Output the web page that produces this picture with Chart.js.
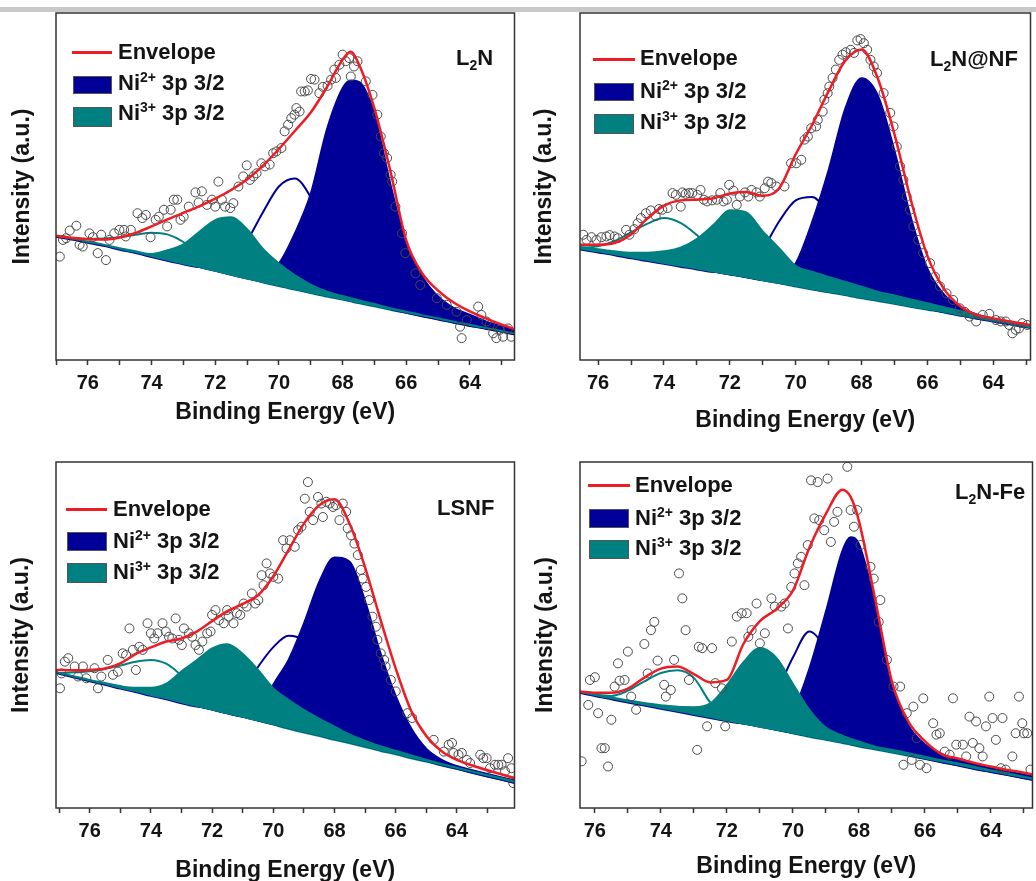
<!DOCTYPE html>
<html>
<head>
<meta charset="utf-8">
<script src="https://cdn.jsdelivr.net/npm/chart.js@4.4.1/dist/chart.umd.min.js"></script>
<style>
  html, body { margin: 0; padding: 0; background: #fff; overflow: hidden; }
  body { width: 1036px; height: 881px; position: relative; font-family: "Liberation Sans", Arial, sans-serif; }
  canvas { position: absolute; }
  .topbar { position: absolute; left: 0; top: 7px; width: 1036px; height: 5px; background: #c8c8c8; }
  .txt { position: absolute; font-weight: bold; font-size: 22px; line-height: 24px; color: #141414; white-space: nowrap; }
  .txt sup { font-size: 14px; line-height: 0; vertical-align: 8px; }
  .txt sub { font-size: 14px; line-height: 0; vertical-align: -5px; }
  .line { position: absolute; height: 3px; background: #ee1c24; }
  .box { position: absolute; box-sizing: border-box; border: 1px solid #555; }
  .navy { background: #000099; }
  .teal { background: #008080; }
</style>
</head>
<body>
<div class="topbar"></div>

<canvas id="p1" width="520" height="440" style="left:0;top:0"></canvas>
<canvas id="p2" width="516" height="440" style="left:520px;top:0"></canvas>
<canvas id="p3" width="520" height="445" style="left:0;top:440px"></canvas>
<canvas id="p4" width="518" height="445" style="left:520px;top:440px"></canvas>

<!-- legends and sample names -->
<div class="line" style="left:72px;top:51px;width:40px"></div>
<div class="txt" style="left:118px;top:40px">Envelope</div>
<div class="box navy" style="left:73px;top:76px;width:39px;height:18px"></div>
<div class="txt" style="left:118px;top:71px">Ni<sup>2+</sup> 3p 3/2</div>
<div class="box teal" style="left:73px;top:107px;width:39px;height:20px"></div>
<div class="txt" style="left:118px;top:101px">Ni<sup>3+</sup> 3p 3/2</div>
<div class="txt" style="left:456px;top:46px">L<sub>2</sub>N</div>

<div class="line" style="left:593px;top:58px;width:42px"></div>
<div class="txt" style="left:640px;top:46px">Envelope</div>
<div class="box navy" style="left:594px;top:83px;width:40px;height:18px"></div>
<div class="txt" style="left:640px;top:79px">Ni<sup>2+</sup> 3p 3/2</div>
<div class="box teal" style="left:594px;top:114px;width:40px;height:20px"></div>
<div class="txt" style="left:640px;top:110px">Ni<sup>3+</sup> 3p 3/2</div>
<div class="txt" style="left:930px;top:47px">L<sub>2</sub>N@NF</div>

<div class="line" style="left:66px;top:508px;width:41px"></div>
<div class="txt" style="left:113px;top:497px">Envelope</div>
<div class="box navy" style="left:67px;top:532px;width:40px;height:19px"></div>
<div class="txt" style="left:113px;top:529px">Ni<sup>2+</sup> 3p 3/2</div>
<div class="box teal" style="left:67px;top:563px;width:40px;height:20px"></div>
<div class="txt" style="left:113px;top:560px">Ni<sup>3+</sup> 3p 3/2</div>
<div class="txt" style="left:437px;top:496px">LSNF</div>

<div class="line" style="left:588px;top:484px;width:42px"></div>
<div class="txt" style="left:635px;top:473px">Envelope</div>
<div class="box navy" style="left:589px;top:509px;width:40px;height:19px"></div>
<div class="txt" style="left:635px;top:506px">Ni<sup>2+</sup> 3p 3/2</div>
<div class="box teal" style="left:589px;top:540px;width:40px;height:19px"></div>
<div class="txt" style="left:635px;top:536px">Ni<sup>3+</sup> 3p 3/2</div>
<div class="txt" style="left:955px;top:480px">L<sub>2</sub>N-Fe</div>

<script>
// ---- L2N (top left) ----
const L2N_ENERGY = [77, 76.5, 76, 75.5, 75, 74.5, 74, 73.5, 73, 72.5, 72, 71.5, 71, 70.5, 70, 69.5, 69, 68.5, 68, 67.75, 67.5, 67, 66.5, 66, 65.5, 65, 64.5, 64, 63.5, 63, 62.5];
const L2N_BASELINE = [35.5, 34.7, 33.8, 32.9, 31.8, 30.8, 29.7, 28.6, 27.5, 26.5, 25.4, 24.3, 23.2, 22.2, 21.2, 20.2, 19.2, 18.2, 17.3, 16.8, 16.3, 15.4, 14.4, 13.5, 12.6, 11.7, 10.7, 9.8, 9.0, 8.1, 7.2];
const L2N_NI2 = [35.6, 34.8, 33.9, 33.0, 32.0, 31.0, 29.9, 28.9, 27.8, 26.8, 25.8, 24.9, 24.0, 24.9, 27.9, 36.6, 48.1, 66.4, 78.4, 80.6, 80.3, 71.2, 51.0, 33.7, 24.2, 18.4, 15.0, 13.1, 11.2, 9.8, 8.4];
const L2N_NI2_B = [35.5, 34.7, 33.8, 32.9, 31.8, 30.8, 29.7, 28.6, 27.6, 26.8, 27.0, 29.1, 34.4, 42.6, 50.0, 52.3, 46.9, 36.6, 26.9, 23.2, 20.2, 16.6, 14.7, 13.6, 12.6, 11.7, 10.7, 9.8, 9.0, 8.1, 7.2];
const L2N_NI3 = [35.8, 35.0, 34.2, 33.3, 32.3, 31.4, 30.6, 31.7, 33.4, 37.0, 40.4, 41.2, 37.8, 32.1, 27.9, 24.5, 21.8, 19.8, 18.5, 17.9, 17.3, 16.2, 15.0, 14.0, 13.0, 12.1, 11.1, 10.2, 9.3, 8.4, 7.5];
const L2N_NI3_B = [35.7, 35.1, 34.9, 35.0, 35.4, 36.1, 36.7, 36.2, 34.0, 30.0, 27.3, 25.4, 23.8, 22.4, 21.3, 20.3, 19.3, 18.3, 17.4, 16.9, 16.4, 15.5, 14.5, 13.6, 12.7, 11.8, 10.8, 9.9, 9.1, 8.2, 7.3];
const L2N_ENVELOPE = [35.8, 35.2, 34.8, 34.7, 35.3, 36.6, 38.5, 40.5, 42.4, 44.3, 46.5, 49.0, 52.0, 56.0, 60.8, 66.0, 71.3, 78.5, 86.5, 88.8, 85.5, 72.5, 54.5, 34.5, 25.0, 20.0, 16.5, 14.0, 12.0, 10.2, 8.6];
const L2N_DATA_E = [76.88, 76.78, 76.68, 76.57, 76.36, 76.26, 76.16, 75.95, 75.84, 75.69, 75.58, 75.43, 75.32, 75.17, 75.01, 74.86, 74.81, 74.65, 74.44, 74.29, 74.18, 74.03, 73.87, 73.77, 73.61, 73.51, 73.40, 73.30, 73.19, 73.09, 72.99, 72.83, 72.62, 72.52, 72.42, 72.26, 72.10, 72.00, 71.90, 71.79, 71.69, 71.53, 71.43, 71.27, 71.12, 71.01, 70.91, 70.80, 70.70, 70.55, 70.44, 70.29, 70.18, 70.08, 69.92, 69.82, 69.71, 69.61, 69.51, 69.45, 69.35, 69.30, 69.19, 69.09, 68.99, 68.88, 68.73, 68.62, 68.47, 68.36, 68.26, 68.21, 68.10, 68.00, 67.90, 67.79, 67.74, 67.64, 67.53, 67.27, 67.06, 66.91, 66.80, 66.70, 66.60, 66.49, 66.44, 66.34, 66.13, 66.03, 65.71, 65.56, 65.04, 64.73, 64.42, 64.31, 64.26, 64.10, 63.74, 63.64, 63.48, 63.38, 63.27, 63.17, 63.06, 62.96, 62.80, 62.70];
const L2N_DATA_I = [29.8, 34.6, 35.1, 37.3, 38.7, 33.2, 32.7, 36.5, 35.4, 30.8, 36.1, 28.8, 34.6, 36.5, 37.5, 37.5, 35.6, 37.5, 42.3, 40.9, 41.8, 35.4, 40.4, 41.3, 43.3, 38.5, 43.3, 46.2, 46.2, 40.4, 41.3, 44.2, 48.3, 45.4, 48.6, 44.7, 46.2, 44.2, 51.4, 46.2, 44.2, 43.8, 45.2, 50.0, 52.9, 56.1, 51.9, 52.9, 53.8, 56.7, 55.8, 56.3, 59.6, 60.1, 61.1, 65.9, 67.8, 69.7, 70.7, 72.6, 71.6, 77.4, 77.4, 77.7, 81.0, 80.8, 76.9, 78.7, 79.0, 80.8, 83.7, 81.3, 85.1, 88.0, 86.1, 87.0, 81.7, 84.6, 86.1, 80.3, 76.4, 70.7, 64.4, 59.6, 58.2, 53.4, 51.4, 44.2, 36.5, 30.8, 25.0, 21.6, 17.8, 15.9, 13.9, 9.6, 6.3, 11.5, 15.4, 13.0, 11.1, 10.1, 7.7, 6.3, 8.7, 6.7, 9.1, 6.7];

// ---- L2N@NF (top right) ----
const NF_ENERGY = [77, 76.5, 76, 75.5, 75, 74.5, 74, 73.5, 73, 72.5, 72, 71.5, 71, 70.5, 70, 69.5, 69, 68.5, 68, 67.5, 67, 66.5, 66, 65.5, 65, 64.5, 64, 63.5, 63, 62.5];
const NF_BASELINE = [32.7, 31.8, 31.0, 30.2, 29.3, 28.5, 27.7, 26.9, 26.1, 25.2, 24.4, 23.6, 22.7, 21.9, 21.1, 20.2, 19.4, 18.6, 17.7, 16.9, 16.1, 15.2, 14.4, 13.6, 12.7, 11.9, 11.1, 10.3, 9.4, 8.7];
const NF_NI2 = [32.9, 32.0, 31.2, 30.4, 29.5, 28.7, 27.9, 27.1, 26.3, 25.4, 24.6, 23.8, 23.0, 23.5, 28.0, 40.0, 55.0, 72.5, 81.3, 76.3, 60.5, 41.2, 26.5, 19.0, 15.3, 13.2, 12.0, 11.0, 10.0, 9.2];
const NF_NI2_B = [32.7, 31.8, 31.0, 30.2, 29.3, 28.5, 27.7, 26.9, 26.1, 25.4, 25.5, 27.5, 32.0, 40.0, 46.0, 47.0, 42.0, 34.0, 26.5, 21.0, 17.8, 16.0, 14.8, 13.8, 12.8, 11.9, 11.1, 10.3, 9.4, 8.7];
const NF_NI3 = [33.5, 32.6, 32.0, 31.4, 31.0, 31.0, 31.4, 32.4, 35.0, 39.0, 43.2, 42.6, 37.2, 32.3, 27.2, 25.5, 24.0, 22.6, 21.2, 19.7, 18.7, 17.5, 16.4, 15.3, 14.2, 13.0, 12.0, 11.0, 10.0, 9.2];
const NF_NI3_B = [33.0, 32.4, 32.8, 34.3, 36.8, 39.3, 40.9, 39.5, 36.0, 31.5, 27.8, 25.3, 23.6, 22.2, 21.2, 20.3, 19.5, 18.7, 17.8, 17.0, 16.2, 15.3, 14.5, 13.7, 12.8, 12.0, 11.2, 10.4, 9.5, 8.8];
const NF_ENVELOPE = [33.3, 33.2, 33.2, 33.7, 36.2, 40.8, 44.5, 46.0, 46.2, 46.6, 48.0, 48.4, 47.3, 49.5, 59.3, 67.8, 77.5, 86.2, 89.5, 81.0, 65.0, 46.0, 30.0, 20.5, 15.5, 13.0, 12.0, 11.1, 10.3, 9.5];
const NF_DATA_E = [76.45, 76.35, 76.20, 76.05, 75.90, 75.75, 75.65, 75.50, 75.40, 75.15, 75.05, 74.90, 74.80, 74.70, 74.55, 74.40, 74.25, 74.15, 74.05, 73.89, 73.74, 73.64, 73.49, 73.44, 73.34, 73.24, 73.14, 72.99, 72.89, 72.79, 72.69, 72.54, 72.39, 72.29, 72.19, 72.09, 72.02, 71.89, 71.79, 71.69, 71.54, 71.44, 71.34, 71.19, 71.09, 70.94, 70.84, 70.74, 70.59, 70.34, 70.14, 69.98, 69.83, 69.73, 69.63, 69.53, 69.38, 69.33, 69.18, 69.13, 69.03, 68.98, 68.88, 68.78, 68.68, 68.58, 68.48, 68.33, 68.23, 68.13, 68.03, 67.93, 67.83, 67.73, 67.63, 67.53, 67.33, 67.13, 67.03, 66.93, 66.83, 66.73, 66.63, 66.53, 66.43, 66.28, 66.13, 65.92, 65.77, 65.62, 65.42, 65.22, 65.02, 64.87, 64.72, 64.52, 64.32, 64.12, 63.92, 63.77, 63.62, 63.52, 63.42, 63.32, 63.22, 63.12, 62.97];
const NF_DATA_I = [36.1, 34.6, 35.4, 34.6, 35.4, 35.6, 36.0, 35.6, 35.1, 37.5, 36.1, 37.7, 39.4, 40.9, 42.3, 43.1, 41.5, 43.5, 43.3, 43.8, 48.1, 47.6, 44.2, 48.3, 47.9, 48.1, 48.1, 47.6, 49.0, 46.2, 45.7, 46.0, 46.2, 48.1, 45.7, 46.2, 50.5, 48.8, 44.7, 47.1, 48.3, 47.1, 49.0, 48.3, 47.1, 49.5, 51.4, 51.0, 50.0, 50.0, 56.7, 56.7, 57.7, 63.5, 64.4, 66.8, 67.3, 69.2, 71.6, 75.0, 76.9, 78.8, 81.3, 83.7, 86.5, 88.0, 88.7, 89.4, 88.5, 92.1, 92.5, 91.3, 89.4, 86.5, 84.6, 82.7, 76.9, 71.2, 67.3, 61.5, 55.8, 51.9, 47.1, 43.3, 38.5, 34.6, 30.8, 27.9, 24.0, 21.2, 19.2, 17.3, 14.9, 13.9, 12.5, 11.1, 13.0, 13.3, 11.5, 11.1, 11.1, 10.1, 7.7, 8.7, 9.1, 10.6, 10.1];

// ---- LSNF (bottom left) ----
const LSNF_ENERGY = [77.5, 77, 76.5, 76, 75.5, 75, 74.5, 74, 73.5, 73, 72.5, 72, 71.5, 71, 70.5, 70, 69.5, 69, 68.5, 68, 67.5, 67, 66.5, 66, 65.5, 65, 64.5, 64, 63.5, 63, 62.5, 62];
const LSNF_BASELINE = [39.8, 38.8, 37.7, 36.6, 35.6, 34.5, 33.5, 32.4, 31.4, 30.3, 29.2, 28.2, 27.1, 26.1, 25.0, 24.0, 22.9, 21.8, 20.8, 19.7, 18.7, 17.6, 16.5, 15.5, 14.4, 13.4, 12.3, 11.3, 10.2, 9.1, 8.1, 7.0];
const LSNF_NI2 = [40.0, 39.0, 37.9, 36.8, 35.8, 34.7, 33.7, 32.6, 31.6, 30.5, 29.4, 28.4, 27.3, 26.4, 27.0, 35.8, 43.0, 53.5, 65.5, 72.5, 71.2, 60.0, 45.0, 32.5, 23.2, 17.2, 14.0, 12.2, 11.0, 9.9, 8.8, 7.9];
const LSNF_NI2_B = [39.8, 38.8, 37.7, 36.6, 35.6, 34.5, 33.5, 32.4, 31.4, 30.3, 29.3, 29.2, 30.5, 34.0, 40.8, 46.5, 49.8, 48.3, 42.0, 33.0, 25.5, 21.0, 18.2, 16.3, 14.8, 13.6, 12.4, 11.3, 10.2, 9.1, 8.1, 7.0];
const LSNF_NI3 = [40.0, 39.1, 38.1, 37.1, 36.2, 35.3, 34.8, 34.8, 36.0, 39.6, 42.8, 46.2, 47.4, 44.6, 40.0, 34.7, 31.3, 28.4, 25.9, 23.6, 21.3, 19.5, 17.9, 16.6, 15.3, 14.0, 12.8, 11.7, 10.6, 9.6, 8.6, 7.5];
const LSNF_NI3_B = [39.9, 39.0, 39.2, 39.5, 40.2, 41.2, 42.3, 42.8, 41.7, 38.3, 34.0, 30.8, 28.5, 26.8, 25.3, 24.1, 22.9, 21.8, 20.8, 19.7, 18.7, 17.6, 16.5, 15.5, 14.4, 13.4, 12.3, 11.3, 10.2, 9.1, 8.1, 7.0];
const LSNF_ENVELOPE = [40.0, 39.9, 39.8, 39.9, 40.3, 41.8, 44.5, 46.4, 48.1, 49.0, 51.0, 54.0, 56.9, 59.0, 61.5, 67.0, 74.6, 82.2, 87.5, 89.2, 82.0, 69.5, 54.5, 40.3, 28.2, 20.8, 16.4, 13.9, 12.3, 10.9, 9.6, 8.4];
const LSNF_DATA_E = [76.97, 76.92, 76.81, 76.70, 76.49, 76.38, 76.22, 76.11, 75.84, 75.73, 75.62, 75.41, 75.24, 75.08, 74.92, 74.81, 74.70, 74.59, 74.49, 74.38, 74.27, 74.11, 74.00, 73.89, 73.78, 73.62, 73.51, 73.41, 73.30, 73.19, 73.08, 72.99, 72.92, 72.76, 72.65, 72.54, 72.43, 72.32, 72.16, 72.05, 72.00, 71.89, 71.78, 71.62, 71.51, 71.46, 71.30, 71.19, 71.08, 70.97, 70.87, 70.70, 70.59, 70.49, 70.38, 70.32, 70.22, 70.11, 70.00, 69.84, 69.68, 69.57, 69.46, 69.30, 69.19, 69.08, 68.97, 68.87, 68.81, 68.70, 68.54, 68.43, 68.38, 68.27, 68.16, 68.05, 67.95, 67.84, 67.73, 67.62, 67.57, 67.46, 67.35, 67.24, 67.14, 67.08, 66.97, 66.87, 66.76, 66.65, 66.60, 66.49, 66.38, 66.33, 66.16, 66.00, 65.62, 65.46, 64.76, 64.43, 64.27, 64.16, 64.11, 63.95, 63.84, 63.68, 63.57, 63.24, 63.14, 63.03, 62.92, 62.76, 62.65, 62.54, 62.43, 62.33, 62.22, 62.16];
const LSNF_DATA_I = [34.6, 38.9, 42.3, 43.3, 40.9, 38.0, 40.9, 37.5, 40.4, 34.6, 38.0, 42.8, 38.5, 39.4, 44.7, 44.2, 51.9, 45.7, 39.9, 46.6, 45.7, 53.4, 50.5, 49.0, 50.5, 53.4, 51.0, 49.5, 49.0, 54.8, 48.6, 47.1, 51.9, 50.5, 49.5, 47.1, 45.7, 48.1, 50.5, 51.0, 55.8, 57.2, 54.3, 53.4, 57.2, 55.3, 53.4, 56.3, 55.8, 59.1, 58.2, 62.0, 59.1, 60.1, 67.3, 64.4, 70.7, 67.8, 66.8, 66.3, 77.4, 75.0, 77.4, 75.5, 80.3, 81.3, 89.4, 94.2, 85.6, 83.2, 89.9, 88.0, 84.1, 88.5, 88.0, 87.0, 87.5, 83.2, 88.0, 85.6, 80.8, 78.8, 76.4, 73.1, 68.8, 66.3, 63.9, 60.1, 55.3, 52.4, 48.6, 44.7, 42.8, 40.9, 37.0, 33.7, 27.4, 26.0, 19.7, 16.3, 18.3, 18.8, 15.9, 15.4, 15.9, 13.9, 13.0, 15.4, 14.4, 14.4, 11.5, 12.5, 12.5, 12.5, 10.6, 14.4, 11.5, 7.2];

// ---- L2N-Fe (bottom right) ----
const FE_ENERGY = [77, 76.5, 76, 75.5, 75, 74.5, 74, 73.5, 73, 72.5, 72, 71.5, 71, 70.5, 70, 69.5, 69, 68.5, 68.25, 68, 67.5, 67, 66.5, 66, 65.5, 65, 64.5, 64, 63.5, 63, 62.5];
const FE_BASELINE = [34.2, 33.3, 32.4, 31.4, 30.5, 29.6, 28.7, 27.8, 26.9, 26.0, 25.0, 24.1, 23.2, 22.3, 21.4, 20.5, 19.6, 18.7, 18.2, 17.7, 16.8, 15.9, 15.0, 14.1, 13.2, 12.3, 11.3, 10.4, 9.5, 8.6, 7.7];
const FE_NI2 = [34.4, 33.5, 32.6, 31.6, 30.7, 29.8, 28.9, 28.0, 27.1, 26.2, 25.3, 24.4, 23.6, 23.2, 28.0, 40.5, 57.0, 74.5, 78.3, 76.5, 59.0, 36.5, 24.0, 18.5, 15.8, 14.0, 12.7, 11.6, 10.6, 9.7, 8.8];
const FE_NI2_B = [34.2, 33.3, 32.4, 31.4, 30.5, 29.6, 28.7, 27.8, 26.9, 26.0, 25.1, 24.5, 26.5, 33.5, 43.5, 51.0, 45.5, 33.0, 27.5, 23.5, 18.5, 16.5, 15.3, 14.2, 13.2, 12.3, 11.3, 10.4, 9.5, 8.6, 7.7];
const FE_NI3 = [34.5, 33.7, 32.9, 32.0, 31.2, 30.4, 29.8, 29.3, 29.2, 30.3, 35.6, 42.2, 46.3, 43.5, 36.0, 28.5, 23.3, 21.0, 20.1, 19.3, 17.8, 16.9, 15.9, 14.9, 13.9, 13.0, 12.0, 11.0, 10.1, 9.1, 8.2];
const FE_NI3_B = [34.4, 33.5, 32.8, 32.4, 33.9, 36.6, 39.0, 39.8, 37.6, 30.5, 27.0, 25.0, 23.8, 22.6, 21.6, 20.6, 19.7, 18.8, 18.3, 17.8, 16.9, 16.0, 15.1, 14.2, 13.3, 12.4, 11.4, 10.5, 9.6, 8.7, 7.8];
const FE_ENVELOPE = [34.0, 33.7, 33.3, 33.3, 34.5, 37.7, 40.3, 40.9, 38.7, 36.3, 37.0, 47.4, 54.0, 57.5, 62.8, 75.2, 85.0, 92.0, 89.9, 83.0, 60.0, 36.5, 25.0, 19.3, 15.6, 14.3, 13.0, 12.0, 11.0, 10.2, 9.2];
const FE_DATA_E = [76.40, 76.20, 76.15, 76.00, 75.90, 75.80, 75.70, 75.60, 75.50, 75.40, 75.30, 75.25, 75.10, 75.00, 74.90, 74.75, 74.50, 74.40, 74.30, 74.20, 74.10, 73.90, 73.85, 73.70, 73.60, 73.45, 73.35, 73.25, 73.15, 72.90, 72.85, 72.75, 72.60, 72.45, 72.35, 72.15, 72.05, 71.85, 71.70, 71.55, 71.40, 71.35, 71.25, 71.10, 71.00, 70.85, 70.65, 70.55, 70.35, 70.25, 70.15, 70.05, 69.95, 69.85, 69.75, 69.65, 69.55, 69.45, 69.35, 69.25, 69.20, 69.05, 68.95, 68.85, 68.75, 68.65, 68.35, 68.25, 68.15, 68.05, 67.95, 67.65, 67.55, 67.40, 67.35, 67.15, 66.95, 66.75, 66.65, 66.55, 66.40, 66.35, 66.25, 66.15, 66.05, 65.95, 65.75, 65.65, 65.55, 65.40, 65.25, 65.15, 65.05, 64.85, 64.75, 64.65, 64.55, 64.45, 64.35, 64.25, 64.15, 64.05, 63.95, 63.85, 63.70, 63.65, 63.55, 63.35, 63.25, 63.15, 63.05, 63.00, 62.90, 62.80];
const FE_DATA_I = [13.5, 29.8, 37.0, 37.8, 27.4, 17.3, 17.3, 12.0, 25.5, 35.1, 41.8, 36.8, 37.0, 45.2, 32.2, 28.4, 47.4, 38.9, 51.4, 53.8, 42.6, 35.6, 32.2, 34.1, 42.8, 67.8, 60.6, 51.4, 37.0, 16.8, 46.6, 46.2, 23.6, 46.2, 36.1, 34.6, 23.6, 48.1, 55.3, 56.3, 56.3, 49.5, 51.4, 59.1, 47.6, 50.5, 60.6, 58.2, 58.2, 59.1, 51.9, 63.9, 67.8, 70.7, 72.6, 64.4, 76.0, 94.7, 83.7, 94.2, 83.2, 80.3, 95.2, 76.9, 82.7, 85.6, 98.6, 86.1, 81.3, 86.1, 76.0, 69.7, 66.3, 53.8, 60.1, 42.8, 35.1, 35.1, 12.5, 27.4, 13.9, 29.3, 20.2, 12.5, 31.7, 11.5, 24.5, 21.2, 21.6, 16.3, 15.4, 31.7, 18.3, 18.3, 14.9, 26.4, 18.8, 25.0, 17.3, 14.9, 23.6, 32.2, 26.0, 19.7, 11.5, 26.0, 11.1, 14.9, 21.6, 32.2, 24.5, 21.6, 21.6, 11.1];

const FONT = '"Liberation Sans", Arial, sans-serif';
const INK = '#141414';
const RED = '#ee1c24';
const NAVY = '#000099';
const TEAL = '#008080';

function toPoints(xs, ys) {
    return xs.map((x, i) => ({ x: x, y: ys[i] }));
}

// plot frame on all four sides
const framePlugin = {
    id: 'frame',
    afterDatasetsDraw(chart) {
        const { ctx, chartArea } = chart;
        ctx.save();
        ctx.strokeStyle = '#333';
        ctx.lineWidth = 1.5;
        ctx.strokeRect(chartArea.left, chartArea.top, chartArea.right - chartArea.left, chartArea.bottom - chartArea.top);
        ctx.restore();
    }
};

function drawPanel(canvasId, s) {
    const curve = { pointRadius: 0, cubicInterpolationMode: 'monotone' };
    new Chart(document.getElementById(canvasId), {
        type: 'line',
        data: {
            datasets: [
                { ...curve, data: toPoints(s.energy, s.baseline), borderColor: 'transparent', borderWidth: 1, fill: false, order: 6 },
                { ...curve, data: toPoints(s.energy, s.ni3b), borderColor: TEAL, borderWidth: 2, fill: false, order: 5 },
                { ...curve, data: toPoints(s.energy, s.ni2b), borderColor: NAVY, borderWidth: 2, fill: false, order: 4 },
                { ...curve, data: toPoints(s.energy, s.ni2), borderColor: NAVY, backgroundColor: NAVY, borderWidth: 1.5, fill: 0, order: 3 },
                { ...curve, data: toPoints(s.energy, s.ni3), borderColor: TEAL, backgroundColor: TEAL, borderWidth: 1.5, fill: 0, order: 2 },
                { data: toPoints(s.dataE, s.dataI), showLine: false, pointRadius: 4.5, pointBorderWidth: 1,
                  pointBorderColor: '#4a4a4a', pointBackgroundColor: 'rgba(255,255,255,0)', order: 1 },
                { ...curve, data: toPoints(s.energy, s.envelope), borderColor: RED, borderWidth: 2.5, fill: false, order: 0 }
            ]
        },
        options: {
            responsive: false,
            animation: false,
            devicePixelRatio: 1,
            layout: { padding: { left: 0, top: s.padTop, right: s.padRight, bottom: 0 } },
            plugins: { legend: { display: false }, tooltip: { enabled: false } },
            scales: {
                x: {
                    type: 'linear',
                    reverse: true,
                    min: s.min,
                    max: s.max,
                    afterFit: (scale) => { scale.height = s.xAxisHeight; },
                    grid: { display: true, drawOnChartArea: false, drawTicks: true, tickLength: 5, tickColor: '#333', tickWidth: 1.5 },
                    border: { display: false },
                    ticks: {
                        stepSize: 1,
                        includeBounds: false,
                        autoSkip: false,
                        maxRotation: 0,
                        padding: 6,
                        color: INK,
                        font: { family: FONT, size: 20, weight: 'bold', lineHeight: 1.2 },
                        callback: (v) => (v % 2 === 0 ? String(v) : '')
                    },
                    title: {
                        display: true,
                        text: 'Binding Energy (eV)',
                        color: INK,
                        font: { family: FONT, size: 23, weight: 'bold', lineHeight: 1.2 },
                        padding: { top: 0, bottom: s.xTitlePad }
                    }
                },
                y: {
                    min: 0,
                    max: 100,
                    afterFit: (scale) => { scale.width = s.yAxisWidth; },
                    grid: { display: false },
                    border: { display: false },
                    ticks: { display: false },
                    title: {
                        display: true,
                        text: 'Intensity (a.u.)',
                        color: INK,
                        font: { family: FONT, size: 23, weight: 'bold', lineHeight: 1.2 },
                        padding: { top: s.yTitlePad, bottom: 0 }
                    }
                }
            }
        },
        plugins: [framePlugin]
    });
}

drawPanel('p1', {
    energy: L2N_ENERGY, baseline: L2N_BASELINE, ni2: L2N_NI2, ni2b: L2N_NI2_B, ni3: L2N_NI3, ni3b: L2N_NI3_B,
    envelope: L2N_ENVELOPE, dataE: L2N_DATA_E, dataI: L2N_DATA_I,
    min: 62.6, max: 77.0, padTop: 13, padRight: 2, yAxisWidth: 56, xAxisHeight: 80, yTitlePad: 9, xTitlePad: 14
});
drawPanel('p2', {
    energy: NF_ENERGY, baseline: NF_BASELINE, ni2: NF_NI2, ni2b: NF_NI2_B, ni3: NF_NI3, ni3b: NF_NI3_B,
    envelope: NF_ENVELOPE, dataE: NF_DATA_E, dataI: NF_DATA_I,
    min: 62.87, max: 76.55, padTop: 13, padRight: 1, yAxisWidth: 60, xAxisHeight: 80, yTitlePad: 11, xTitlePad: 6
});
drawPanel('p3', {
    energy: LSNF_ENERGY, baseline: LSNF_BASELINE, ni2: LSNF_NI2, ni2b: LSNF_NI2_B, ni3: LSNF_NI3, ni3b: LSNF_NI3_B,
    envelope: LSNF_ENVELOPE, dataE: LSNF_DATA_E, dataI: LSNF_DATA_I,
    min: 62.12, max: 77.1, padTop: 22, padRight: 2, yAxisWidth: 56, xAxisHeight: 77, yTitlePad: 8, xTitlePad: 1
});
drawPanel('p4', {
    energy: FE_ENERGY, baseline: FE_BASELINE, ni2: FE_NI2, ni2b: FE_NI2_B, ni3: FE_NI3, ni3b: FE_NI3_B,
    envelope: FE_ENVELOPE, dataE: FE_DATA_E, dataI: FE_DATA_I,
    min: 62.74, max: 76.45, padTop: 22, padRight: 1, yAxisWidth: 60, xAxisHeight: 77, yTitlePad: 12, xTitlePad: 5
});
</script>
</body>
</html>
